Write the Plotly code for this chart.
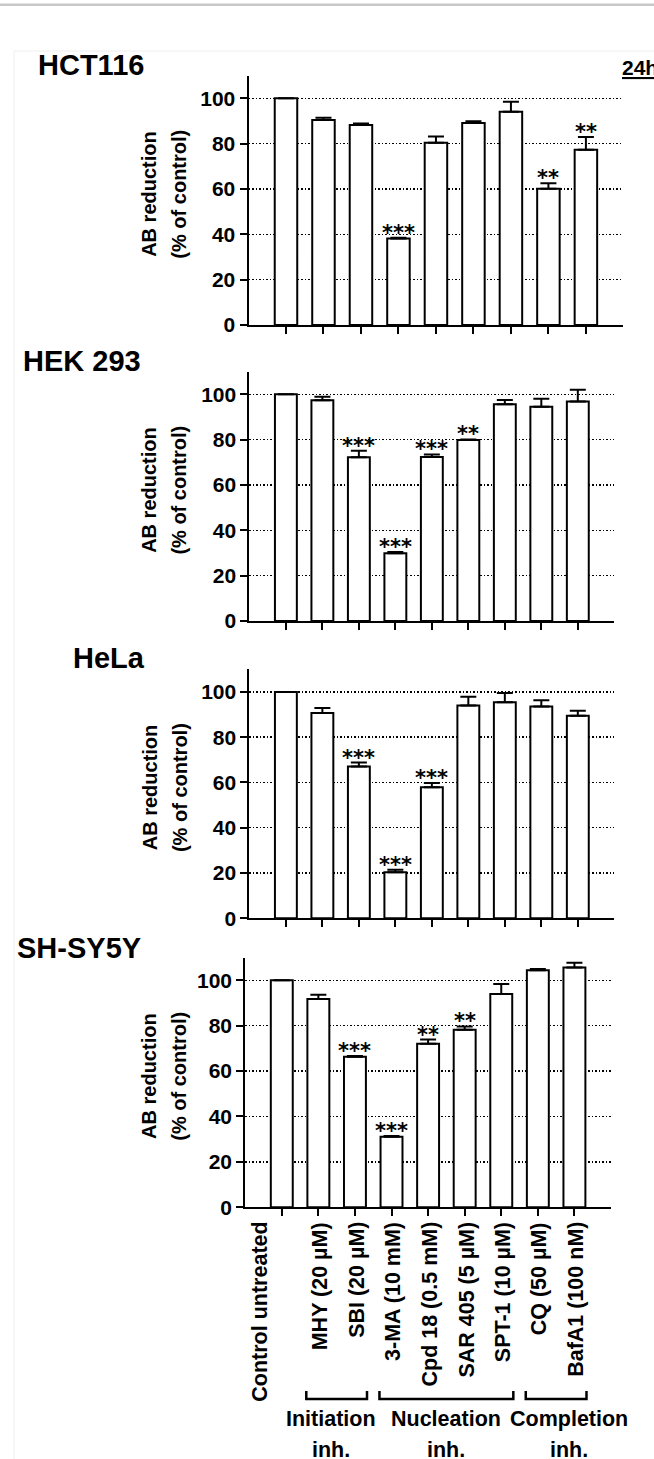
import plotly.graph_objects as go

# ---------------- data ----------------
categories = ["Control untreated", "MHY (20 µM)", "SBI (20 µM)", "3-MA (10 mM)",
              "Cpd 18 (0.5 mM)", "SAR 405 (5 µM)", "SPT-1 (10 µM)", "CQ (50 µM)",
              "BafA1 (100 nM)"]
cell_lines = ["HCT116", "HEK 293", "HeLa", "SH-SY5Y"]

hct116_values = [100, 90.5, 88.2, 38.2, 80.4, 89.1, 94.1, 60.1, 77.3]
hct116_errors = [0, 1.0, 0.7, 0.3, 2.8, 0.8, 4.4, 2.4, 5.6]
hct116_stars = ["", "", "", "***", "", "", "", "**", "**"]

hek293_values = [100, 97.4, 72.2, 29.9, 72.3, 79.8, 95.6, 94.5, 96.8]
hek293_errors = [0, 1.5, 2.9, 0.5, 1.2, 0.3, 1.9, 3.6, 5.2]
hek293_stars = ["", "", "***", "***", "***", "**", "", "", ""]

hela_values = [100, 90.7, 67.0, 20.3, 57.9, 94.0, 95.4, 93.6, 89.5]
hela_errors = [0, 2.2, 1.8, 1.1, 1.9, 3.8, 4.1, 2.7, 2.2]
hela_stars = ["", "", "***", "***", "***", "", "", "", ""]

shsy5y_values = [100, 91.8, 66.3, 31.1, 72.0, 78.2, 94.0, 104.4, 105.7]
shsy5y_errors = [0, 1.8, 0.4, 0.3, 1.9, 1.5, 4.4, 0.6, 2.1]
shsy5y_stars = ["", "", "***", "***", "**", "**", "", "", ""]

y_ticks = [0, 20, 40, 60, 80, 100]
y_axis_title = ["AB reduction", "(% of control)"]
time_label = "24h"

group_names = ["Initiation", "Nucleation", "Completion"]
group_suffix = "inh."
group_first = [1, 3, 7]
group_last = [2, 6, 8]

# ---------------- layout helpers ----------------
W, H = 654, 1459
KY = 1470 / 1459  # small vertical correction for the capture


def px(x):
    return x / W


def py(y):
    return 1 - (y * KY) / H


FONT = "Liberation Sans, Arial, sans-serif"
STAR = "DejaVu Sans, sans-serif"

series = [
    (hct116_values, hct116_errors, hct116_stars),
    (hek293_values, hek293_errors, hek293_stars),
    (hela_values, hela_errors, hela_stars),
    (shsy5y_values, shsy5y_errors, shsy5y_stars),
]

# panel geometry in pixels: (x_left, x_right, y_top, y_bottom)
panels = [
    (248.5, 623.4, 75.7, 325.0),
    (249.4, 614.3, 371.7, 621.0),
    (249.4, 614.3, 669.3, 918.3),
    (245.2, 611.0, 957.7, 1207.3),
]
title_pos = [(36, 65), (21, 361), (71, 658), (14.6, 948)]

fig = go.Figure()
annotations = []
shapes = []
layout_axes = {}

xcat = list(range(len(categories)))

for k, ((vals, errs, stars), (x0, x1, yt, yb)) in enumerate(zip(series, panels)):
    n = k + 1
    xa = "x" if n == 1 else f"x{n}"
    ya = "y" if n == 1 else f"y{n}"
    fig.add_trace(go.Bar(
        x=xcat, y=vals, width=0.6,
        marker=dict(color="white", line=dict(color="black", width=2)),
        error_y=dict(type="data", symmetric=False, array=errs,
                     arrayminus=[0] * len(errs), color="black",
                     thickness=2, width=8),
        xaxis=xa, yaxis=ya, showlegend=False, hoverinfo="skip",
    ))
    layout_axes["xaxis" if n == 1 else f"xaxis{n}"] = dict(
        domain=[px(x0), px(x1)], range=[-1, 9], anchor=ya,
        showline=True, linewidth=2, linecolor="black",
        ticks="outside", ticklen=7, tickwidth=2, tickcolor="black",
        tickvals=xcat, showticklabels=False,
        showgrid=False, zeroline=False, fixedrange=True,
    )
    layout_axes["yaxis" if n == 1 else f"yaxis{n}"] = dict(
        domain=[py(yb), py(yt)], range=[0, 110], anchor=xa,
        showline=True, linewidth=2, linecolor="black",
        ticks="outside", ticklen=7, tickwidth=2, tickcolor="black",
        tickvals=y_ticks,
        tickfont=dict(family=FONT, size=21, color="black", weight="bold"),
        showgrid=True, gridcolor="black", gridwidth=1.5, griddash="1.5px,2px",
        zeroline=False, fixedrange=True,
    )
    # significance stars
    for i, s in enumerate(stars):
        if s:
            annotations.append(dict(
                x=i, y=vals[i] + errs[i], xref=xa, yref=ya, text=s,
                showarrow=False, xanchor="center", yanchor="bottom", yshift=-9,
                font=dict(family=STAR, size=21, color="black", weight="bold"),
            ))
    # panel title
    tx, ty = title_pos[k]
    annotations.append(dict(
        x=px(tx), y=py(ty), xref="paper", yref="paper", text=cell_lines[k],
        showarrow=False, xanchor="left", yanchor="middle",
        font=dict(family=FONT, size=29, color="black", weight="bold"),
    ))
    # y-axis title (two lines)
    yc = (yt + yb) / 2 - 6
    for xt, line in zip([149.5, 179.3], y_axis_title):
        annotations.append(dict(
            x=px(xt), y=py(yc), xref="paper", yref="paper", text=line,
            showarrow=False, textangle=-90, xanchor="center", yanchor="middle",
            font=dict(family=FONT, size=20, color="black", weight="bold"),
        ))

# time label
annotations.append(dict(
    x=px(620), y=py(68), xref="paper", yref="paper", text=f"<u>{time_label}</u>",
    showarrow=False, xanchor="left", yanchor="middle",
    font=dict(family=FONT, size=21, color="black", weight="bold"),
))

# category labels under the last panel
for i, c in enumerate(categories):
    annotations.append(dict(
        x=i, y=py(1220), xref="x4", yref="paper", text=c,
        showarrow=False, textangle=-90, xanchor="center", yanchor="top",
        xshift=(-22 if i == 0 else 2),
        font=dict(family=FONT, size=21.5, color="black", weight="bold"),
    ))

# group brackets and labels
label_shift = [-6, 0, 13]
for g, name in enumerate(group_names):
    a = group_first[g] - 0.33
    b = group_last[g] + 0.33
    shapes.append(dict(
        type="path", xref="x4", yref="paper",
        path=f"M {a},{py(1391)} L {a},{py(1399)} L {b},{py(1399)} L {b},{py(1391)}",
        line=dict(color="black", width=2.5),
    ))
    cx = (group_first[g] + group_last[g]) / 2
    annotations.append(dict(
        x=cx, y=py(1419), xref="x4", yref="paper", text=name,
        showarrow=False, xanchor="center", yanchor="middle", xshift=label_shift[g],
        font=dict(family=FONT, size=21.5, color="black", weight="bold"),
    ))
    annotations.append(dict(
        x=cx, y=py(1450), xref="x4", yref="paper", text=group_suffix,
        showarrow=False, xanchor="center", yanchor="middle", xshift=label_shift[g],
        font=dict(family=FONT, size=21.5, color="black", weight="bold"),
    ))

# page decorations
shapes.append(dict(type="line", xref="paper", yref="paper", x0=0, x1=1,
                   y0=py(4.8), y1=py(4.8), line=dict(color="#c8c8c8", width=2.5)))
shapes.append(dict(type="rect", xref="paper", yref="paper", x0=px(14), x1=1.02,
                   y0=-0.02, y1=py(51), line=dict(color="#efefef", width=1)))

fig.update_layout(
    width=W, height=H, autosize=False,
    margin=dict(l=0, r=0, t=0, b=0),
    paper_bgcolor="white", plot_bgcolor="white",
    annotations=annotations, shapes=shapes,
    bargap=0.4,
    **layout_axes,
)

fig.write_html(
    "out.html",
    config={"displayModeBar": False, "staticPlot": True},
    post_script="document.body.style.margin='0';document.body.style.overflow='hidden';",
)
